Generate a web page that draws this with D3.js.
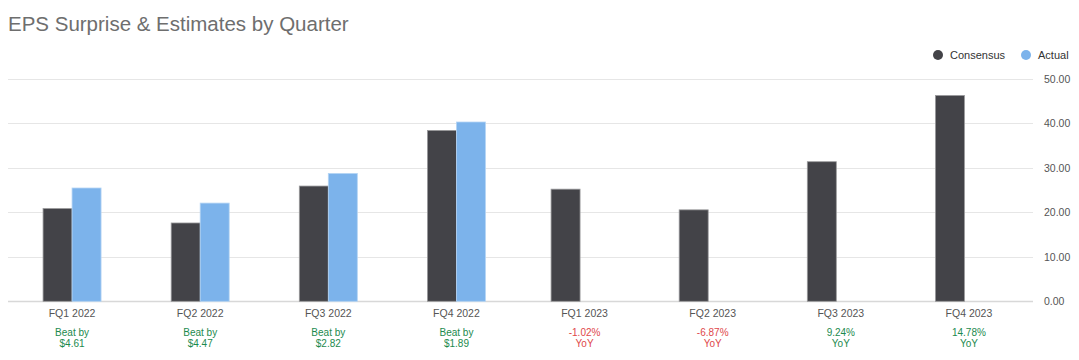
<!DOCTYPE html>
<html><head><meta charset="utf-8">
<script src="https://cdn.jsdelivr.net/npm/d3@7"></script>
<style>body{margin:0;background:#fff;}svg{display:block;font-family:"Liberation Sans",Arial,sans-serif;}</style>
</head><body><svg id="c" width="1079" height="360"></svg>
<script>
const categories = ["FQ1 2022","FQ2 2022","FQ3 2022","FQ4 2022","FQ1 2023","FQ2 2023","FQ3 2023","FQ4 2023"];
const consensus = [20.85, 17.60, 25.90, 38.40, 25.20, 20.55, 31.37, 46.25];
const actual = [25.46, 22.07, 28.72, 40.29, null, null, null, null];
const noteLine1 = ["Beat by","Beat by","Beat by","Beat by","-1.02%","-6.87%","9.24%","14.78%"];
const noteLine2 = ["$4.61","$4.47","$2.82","$1.89","YoY","YoY","YoY","YoY"];
const notePositive = [true,true,true,true,false,false,true,true];
const yTicks = [0,10,20,30,40,50];
const seriesNames = ["Consensus","Actual"];
const seriesColors = ["#434348","#7cb3eb"];

const svg = d3.select("#c");
const L = 8, R = 1033, T = 78.8, B = 301.3;
const x = d3.scaleBand().domain(categories).range([L,R]);
const y = d3.scaleLinear().domain([0,50]).range([B,T]);
const bw = 29;
const xs = d3.scaleOrdinal().domain(seriesNames).range([-bw,0]);

svg.append("text").attr("x",8).attr("y",31).attr("font-size",20.5).attr("fill","#6e6e6e").text("EPS Surprise & Estimates by Quarter");

// grid
svg.append("g").selectAll("line").data(yTicks).join("line")
  .attr("x1",L).attr("x2",R).attr("y1",d=>Math.round(y(d))+0.5).attr("y2",d=>Math.round(y(d))+0.5)
  .attr("stroke",d=>d===0?"#d8d8d8":"#e6e6e6").attr("stroke-width",d=>d===0?1.5:1);

// y labels
const yAxis = d3.axisRight(y).tickValues(yTicks).tickFormat(d3.format(".2f")).tickSize(0).tickPadding(0);
const ga = svg.append("g").attr("transform",`translate(1044,0)`).call(yAxis);
ga.select(".domain").remove();
ga.selectAll("text").attr("font-size",10.5).attr("fill","#555").attr("font-family","Liberation Sans,Arial,sans-serif");

// bars
const cx = c => x(c)+x.bandwidth()/2;
const g = svg.append("g");
categories.forEach((c,i)=>{
  const alone = actual[i]===null;
  const shift = alone ? -4.5 : 0;
  g.append("rect").attr("x",cx(c)+xs("Consensus")+shift).attr("width",bw)
    .attr("y",y(consensus[i])).attr("height",y(0)-y(consensus[i]))
    .attr("fill",seriesColors[0]).attr("stroke","#9a9a9c").attr("stroke-width",0.8);
  if(!alone){
    g.append("rect").attr("x",cx(c)+xs("Actual")).attr("width",bw)
      .attr("y",y(actual[i])).attr("height",y(0)-y(actual[i]))
      .attr("fill",seriesColors[1]).attr("stroke","#b4d4f4").attr("stroke-width",0.8);
  }
});

// x labels
const xl = svg.append("g");
categories.forEach((c,i)=>{
  xl.append("text").attr("x",cx(c)).attr("y",317).attr("text-anchor","middle").attr("font-size",10.5).attr("fill","#555").text(c);
  const col = notePositive[i] ? "#1c8a4e" : "#e0484a";
  xl.append("text").attr("x",cx(c)).attr("y",335.5).attr("text-anchor","middle").attr("font-size",10).attr("fill",col).text(noteLine1[i]);
  xl.append("text").attr("x",cx(c)).attr("y",346.5).attr("text-anchor","middle").attr("font-size",10).attr("fill",col).text(noteLine2[i]);
});

// legend
const lg = svg.append("g");
const legendX = [938, 1026];
seriesNames.forEach((s,i)=>{
  lg.append("circle").attr("cx",legendX[i]).attr("cy",55).attr("r",5).attr("fill",seriesColors[i]);
  lg.append("text").attr("x",legendX[i]+12).attr("y",59).attr("font-size",11).attr("fill","#333").text(s);
});
</script></body></html>
